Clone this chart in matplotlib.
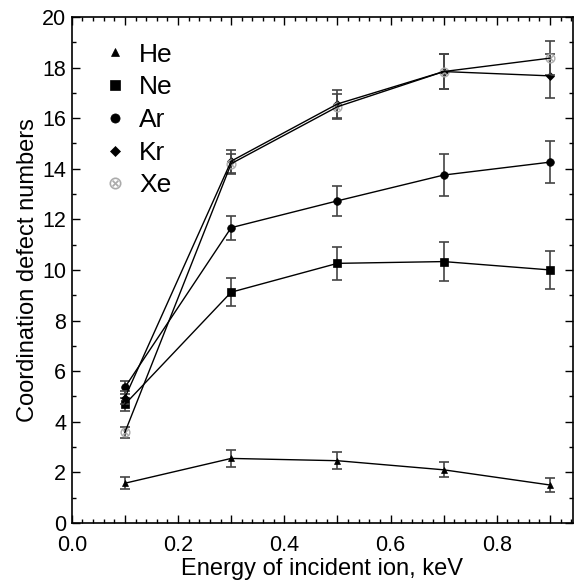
import numpy as np
import matplotlib.pyplot as plt
from matplotlib.ticker import MultipleLocator, FuncFormatter

plt.rcParams['font.family'] = ['Liberation Sans', 'DejaVu Sans']

energy = [0.1, 0.3, 0.5, 0.7, 0.9]

he = [1.57, 2.55, 2.46, 2.10, 1.50]
he_err = [0.23, 0.35, 0.33, 0.30, 0.26]

ne = [4.69, 9.12, 10.26, 10.33, 10.00]
ne_err = [0.25, 0.56, 0.64, 0.78, 0.76]

ar = [5.36, 11.67, 12.73, 13.75, 14.26]
ar_err = [0.25, 0.48, 0.60, 0.82, 0.82]

kr = [4.95, 14.30, 16.56, 17.84, 17.67]
kr_err = [0.25, 0.45, 0.56, 0.68, 0.86]

xe = [3.58, 14.20, 16.45, 17.84, 18.37]
xe_err = [0.23, 0.40, 0.50, 0.68, 0.68]

series = [
    ("He", he, he_err, '^', 'black', 5),
    ("Ne", ne, ne_err, 's', 'black', 6),
    ("Ar", ar, ar_err, 'o', 'black', 5.5),
    ("Kr", kr, kr_err, 'D', 'black', 4.5),
    ("Xe", xe, xe_err, r'$\otimes$', '#aaaaaa', 7),
]

fig = plt.figure(figsize=(5.74, 5.83), dpi=100)
ax = fig.add_axes([0.125, 0.103, 0.873, 0.868])

for name, vals, errs, mk, col, ms in series:
    ax.errorbar(energy, vals, yerr=errs, color='black', lw=1,
                ecolor='#444444', elinewidth=1.2, capsize=3.5, capthick=1.2,
                marker='None')
    ax.plot(energy, vals, linestyle='None', marker=mk, color=col,
            markersize=ms, label=name,
            markeredgewidth=0.5 if mk != r'$\otimes$' else 0.2)

ax.set_xlim(0, 0.943)
ax.set_ylim(0, 20)
ax.xaxis.set_major_locator(MultipleLocator(0.1))
ax.xaxis.set_minor_locator(MultipleLocator(0.02))
ax.yaxis.set_major_locator(MultipleLocator(2))
ax.yaxis.set_minor_locator(MultipleLocator(1))
ax.xaxis.set_major_formatter(FuncFormatter(
    lambda v, p: f"{v:.1f}" if round(v * 10) % 2 == 0 else ""))
ax.tick_params(which='both', direction='in', top=True, right=True,
               labelsize=15.5, width=1)
ax.tick_params(axis='x', pad=9)
ax.tick_params(axis='y', pad=4)
ax.tick_params(which='major', length=6)
ax.tick_params(which='minor', length=3)
for s in ax.spines.values():
    s.set_linewidth(1.2)

ax.set_xlabel('Energy of incident ion, keV', fontsize=17, labelpad=1)
ax.set_ylabel('Coordination defect numbers', fontsize=17, labelpad=2)

ax.legend(loc='upper left', frameon=False, fontsize=19, handlelength=0.8,
          handletextpad=0.5, labelspacing=0.33, borderaxespad=0,
          markerscale=1.2, bbox_to_anchor=(0.045, 0.97))

plt.savefig('out.png', dpi=100)
